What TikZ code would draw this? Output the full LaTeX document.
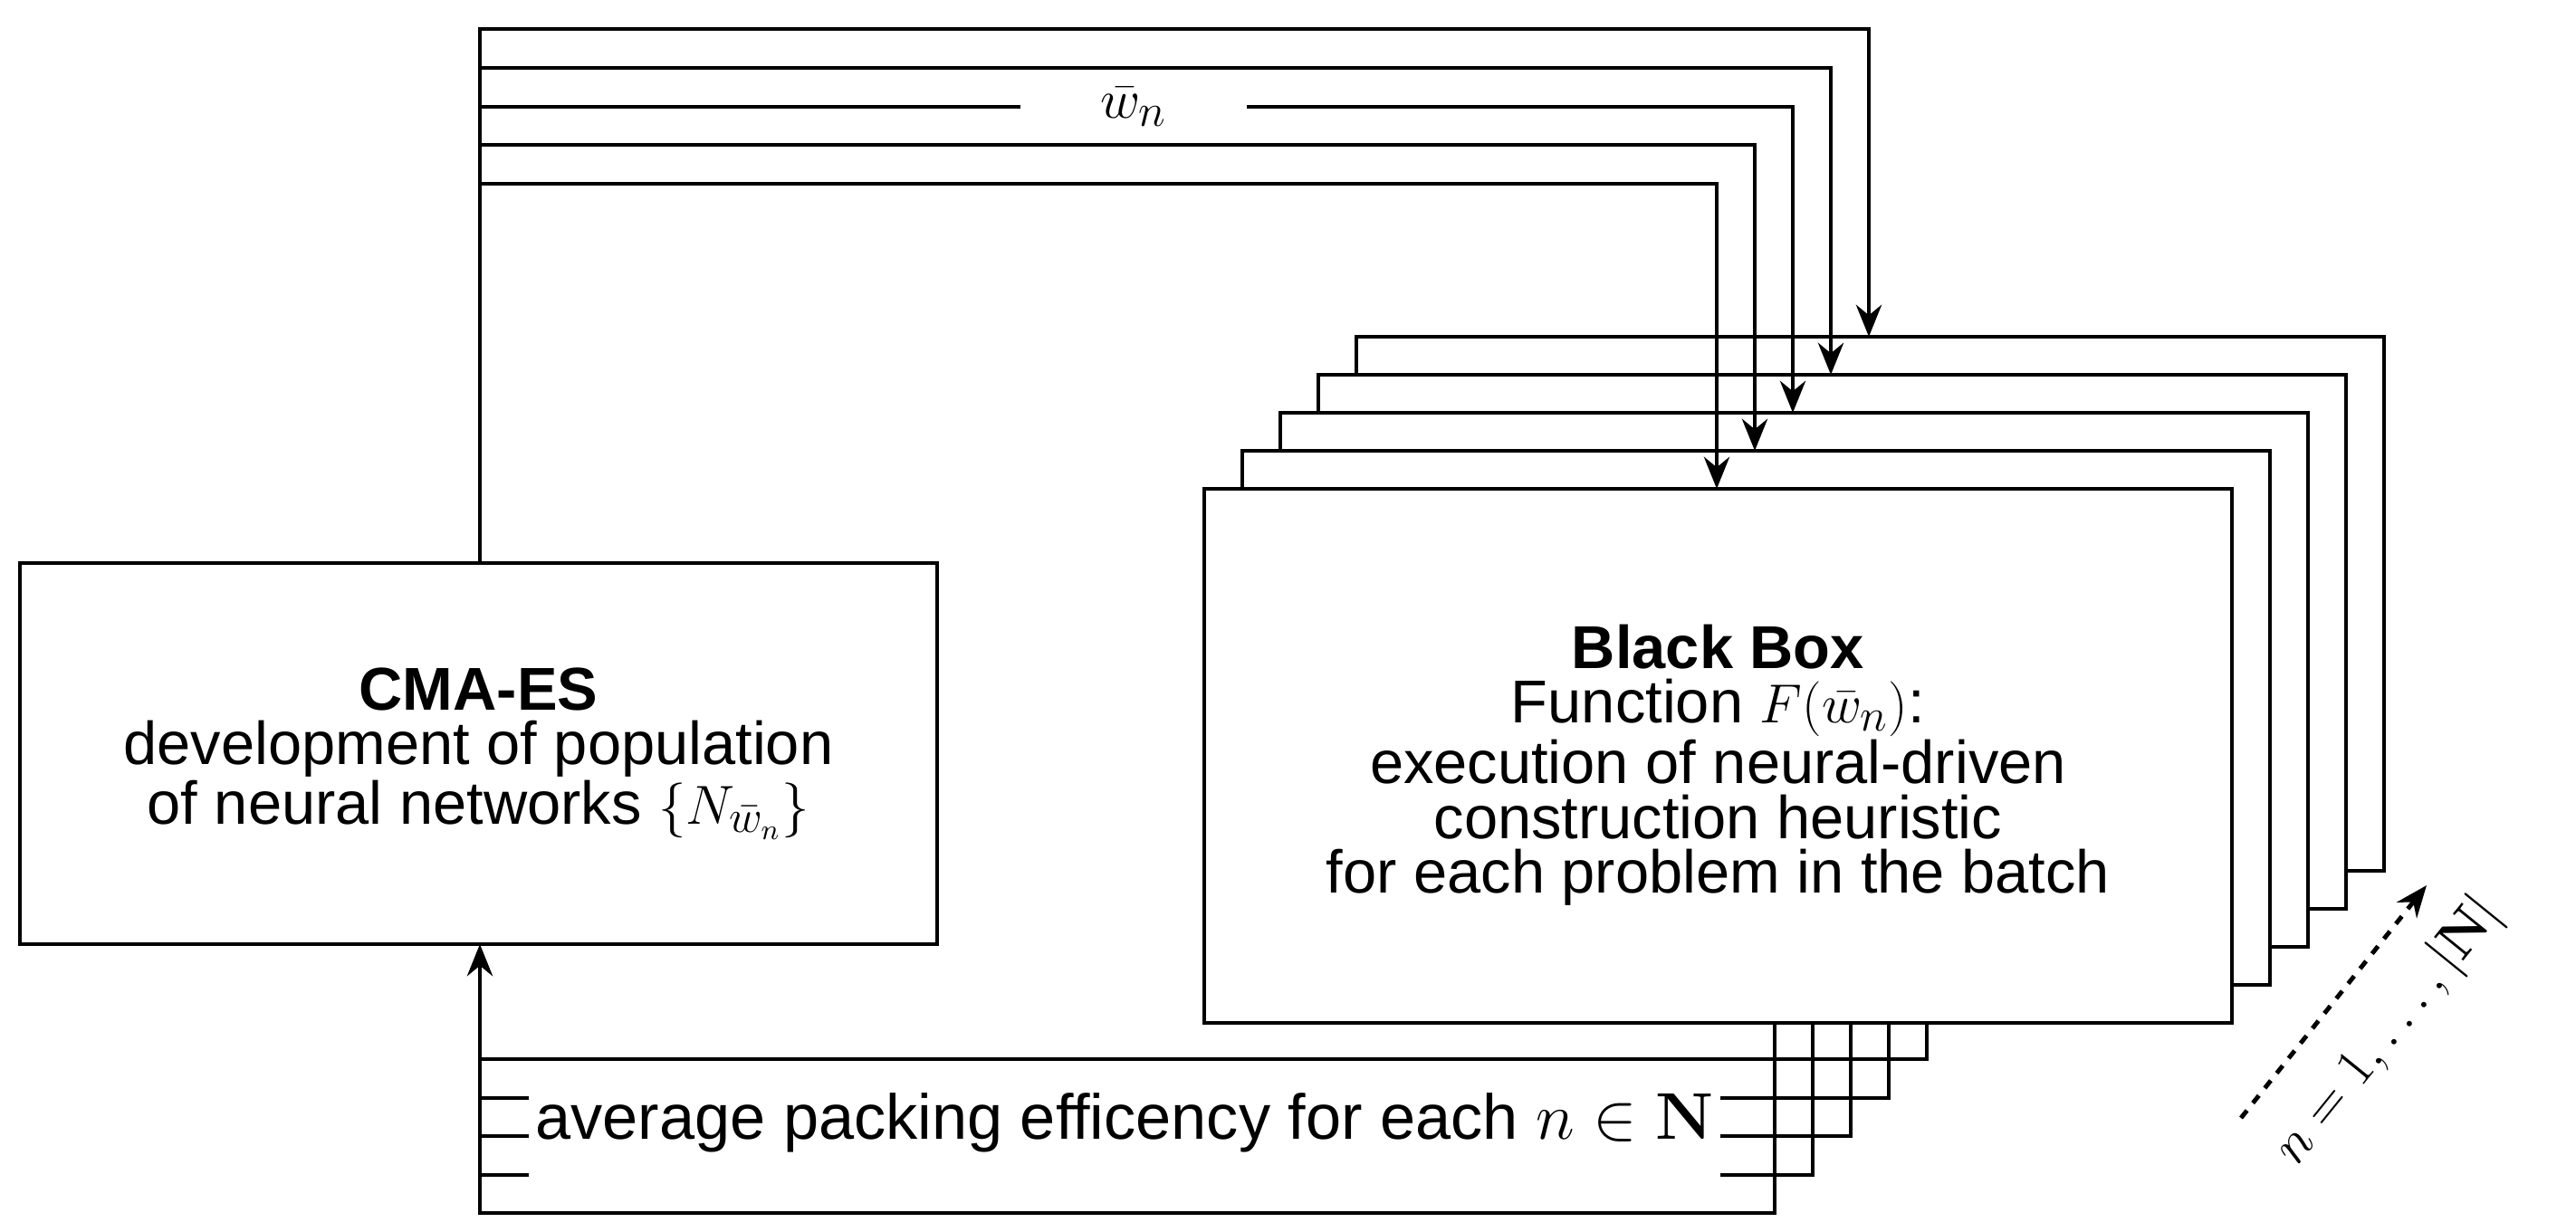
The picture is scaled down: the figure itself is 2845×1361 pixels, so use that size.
\documentclass[tikz,border=0pt]{standalone}
\usepackage{amsmath}
\usepackage[no-math]{fontspec}
\setmainfont{Liberation Sans}
\usetikzlibrary{arrows.meta}
\begin{document}
\begin{tikzpicture}[x=0.01cm,y=-0.01cm,
  ln/.style={line width=1.4pt},
  arr/.style={ln,-{Stealth[length=10pt,width=8pt]}},
  box/.style={ln,draw,fill=white,align=center,inner sep=0pt},
  txt/.style={font=\fontsize{19pt}{17.2pt}\selectfont}]
\useasboundingbox (0,0) rectangle (2845,1361);
% stacked boxes
\foreach \k in {4,3,2,1} {
  \draw[ln,fill=white] (1330+42*\k,540-42*\k) rectangle (2465+42*\k,1130-42*\k);
}
\node[box,minimum width=1135*0.01cm,minimum height=590*0.01cm,txt] (bb) at (1897.5,835) {};
\node[txt,align=center] (bbt) at (1897.5,845) {\textbf{Black Box}\\Function $F(\bar{w}_n)$:\\execution of neural-driven\\construction heuristic\\for each problem in the batch};
\node[box,minimum width=1013*0.01cm,minimum height=421*0.01cm,txt] (cma) at (528.5,832.5) {\textbf{CMA-ES}\\development of population\\of neural networks $\{N_{\bar{w}_n}\}$};
% top connectors
\coordinate (c0) at (530,622);
\foreach \k/\y in {4/32,3/75,2/118,1/160,0/203} {
  \draw[arr] (c0) -- (530,\y) -- (1896+42*\k,\y) -- (1896+42*\k,540-42*\k);
}
\node[fill=white,minimum width=250*0.01cm,minimum height=78*0.01cm,inner sep=0pt,txt] (wl) at (1252,118) {$\bar{w}_n$};
% bottom connectors
\coordinate (t0) at (530,1043);
\foreach \k/\y in {4/1170,3/1213,2/1255,1/1298,0/1340} {
  \draw[ln] (1960+42*\k,1130) -- (1960+42*\k,\y) -- (530,\y) -- (530,1100);
}
\draw[arr] (530,1110) -- (t0);
\node[fill=white,inner xsep=2pt,inner ysep=10pt,font=\fontsize{20pt}{20pt}\selectfont] (al) at (1242,1240) {average packing efficency for each $n\in\mathbf{N}$};
% dashed arrow
\coordinate (d0) at (2475,1235);
\coordinate (d1) at (2680,978);
\draw[ln,dashed,-{Stealth[length=10pt,width=8pt]}] (d0) -- (d1);
\node[txt,rotate=51] (nl) at (2638,1140) {$n=1,\dots,|\mathbf{N}|$};
\end{tikzpicture}
\end{document}
